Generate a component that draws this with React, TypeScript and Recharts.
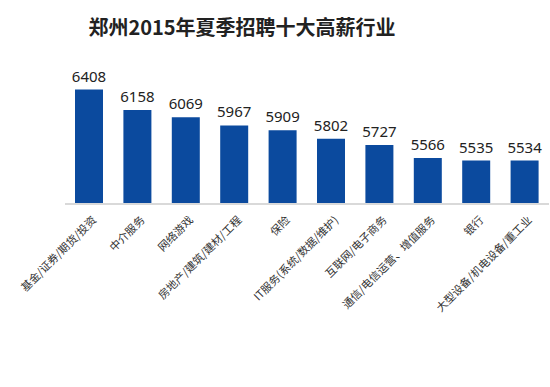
import React from "react";
import { BarChart, Bar, XAxis, YAxis, LabelList } from "recharts";

const INDUSTRIES = [
  "基金/证券/期货/投资",
  "中介服务",
  "网络游戏",
  "房地产/建筑/建材/工程",
  "保险",
  "IT服务(系统/数据/维护)",
  "互联网/电子商务",
  "通信/电信运营、增值服务",
  "银行",
  "大型设备/机电设备/重工业",
];
const SALARIES = [6408, 6158, 6069, 5967, 5909, 5802, 5727, 5566, 5535, 5534];

const data = INDUSTRIES.map((name, i) => ({ name, value: SALARIES[i] }));

const CJK = '"Noto Sans CJK SC", "Noto Sans", sans-serif';

const AngledTick = (props: any) => {
  const { x, y, payload } = props;
  return (
    <g transform={`translate(${x + 5},${y + 6})`}>
      <text
        x={0}
        y={0}
        dy={4}
        transform="rotate(-45)"
        textAnchor="end"
        fontSize={11}
        fontFamily={CJK}
        fill="#333"
      >
        {payload.value}
      </text>
    </g>
  );
};

export default function App() {
  return (
    <div style={{ position: "absolute", left: 0, top: 0, width: 550, height: 387, background: "#fff" }}>
      <div
        style={{
          position: "absolute",
          left: 0,
          width: 484,
          top: 12,
          textAlign: "center",
          fontFamily: CJK,
          fontWeight: 700,
          fontSize: 20,
          color: "#222",
        }}
      >
        郑州2015年夏季招聘十大高薪行业
      </div>
      <BarChart
        width={550}
        height={387}
        data={data}
        margin={{ top: 74, right: 1, bottom: 0, left: 65 }}
        barSize={28}
      >
        <XAxis
          dataKey="name"
          interval={0}
          height={183}
          tickLine={false}
          axisLine={{ stroke: "#d9d9d9", strokeWidth: 2 }}
          tick={<AngledTick />}
        />
        <YAxis hide domain={[5000, 6600]} allowDataOverflow />
        <Bar dataKey="value" fill="#0b4a9e" isAnimationActive={false}>
          <LabelList
            dataKey="value"
            position="top"
            offset={8}
            fontSize={15}
            fontFamily='"Noto Sans", sans-serif'
            fill="#222"
          />
        </Bar>
      </BarChart>
    </div>
  );
}
